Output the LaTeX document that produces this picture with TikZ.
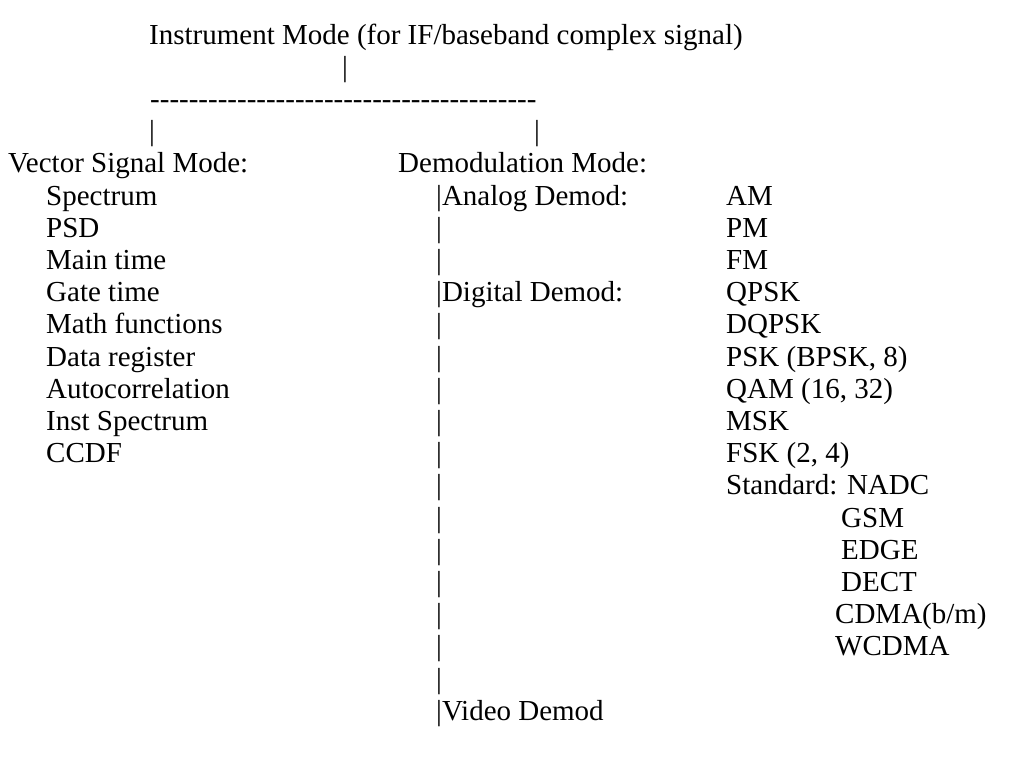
\documentclass[tikz,border=0pt]{standalone}
\usepackage{fontspec}
\setmainfont{Liberation Serif}[Ligatures=TeXOff]
\usetikzlibrary{positioning}

\newcommand{\rowy}[1]{44+32.2*#1}

\begin{document}
\begin{tikzpicture}[x=1pt, y=-1pt,
		txt/.style={anchor=base west, inner sep=0pt, font=\fontsize{29}{32}\selectfont}]
		\useasboundingbox (0,0) rectangle (1018,774);
		\node[txt] (instr) at (149,{\rowy{0}}) {Instrument Mode (for IF/baseband complex signal)};
		\node[txt] (instrbar) at (342,{\rowy{1}}) {|};
		\node[txt] (dashes) at (150,{\rowy{2}}) {----------------------------------------};
		\node[txt] (vsabar) at (149,{\rowy{3}}) {|};
		\node[txt] (demodbar) at (534,{\rowy{3}}) {|};
		\node[txt] (vsa) at (8,{\rowy{4}}) {Vector Signal Mode:};
		\node[txt] (demod) at (398,{\rowy{4}}) {Demodulation Mode:};
		\node[txt] (spec) at (46,{\rowy{5}}) {Spectrum};
		\node[txt] (psd) at (46,{\rowy{6}}) {PSD};
		\node[txt] (main) at (46,{\rowy{7}}) {Main time};
		\node[txt] (gate) at (46,{\rowy{8}}) {Gate time};
		\node[txt] (math) at (46,{\rowy{9}}) {Math functions};
		\node[txt] (reg) at (46,{\rowy{10}}) {Data register};
		\node[txt] (auto) at (46,{\rowy{11}}) {Autocorrelation};
		\node[txt] (inst) at (46,{\rowy{12}}) {Inst Spectrum};
		\node[txt] (ccdf) at (46,{\rowy{13}}) {CCDF};
		\node[txt] (analog) at (436,{\rowy{5}}) {|Analog Demod:};
		\node[txt] (digital) at (436,{\rowy{8}}) {|Digital Demod:};
		\node[txt] (video) at (436,{\rowy{21}}) {|Video Demod};
		\foreach \k in {6,7,9,10,...,20}
			\node[txt] (bar\k) at (436,{\rowy{\k}}) {|};
		\node[txt] (am) at (726,{\rowy{5}}) {AM};
		\node[txt] (pm) at (726,{\rowy{6}}) {PM};
		\node[txt] (fm) at (726,{\rowy{7}}) {FM};
		\node[txt] (qpsk) at (726,{\rowy{8}}) {QPSK};
		\node[txt] (dqpsk) at (726,{\rowy{9}}) {DQPSK};
		\node[txt] (psk) at (726,{\rowy{10}}) {PSK (BPSK, 8)};
		\node[txt] (qam) at (726,{\rowy{11}}) {QAM (16, 32)};
		\node[txt] (msk) at (726,{\rowy{12}}) {MSK};
		\node[txt] (fsk) at (726,{\rowy{13}}) {FSK (2, 4)};
		\node[txt] (std) at (726,{\rowy{14}}) {Standard: NADC};
		\node[txt] (gsm) at (841,{\rowy{15}}) {GSM};
		\node[txt] (edge) at (841,{\rowy{16}}) {EDGE};
		\node[txt] (dect) at (841,{\rowy{17}}) {DECT};
		\node[txt] (cdma) at (835,{\rowy{18}}) {CDMA(b/m)};
		\node[txt] (wcdma) at (835,{\rowy{19}}) {WCDMA};
	\end{tikzpicture}
\end{document}
